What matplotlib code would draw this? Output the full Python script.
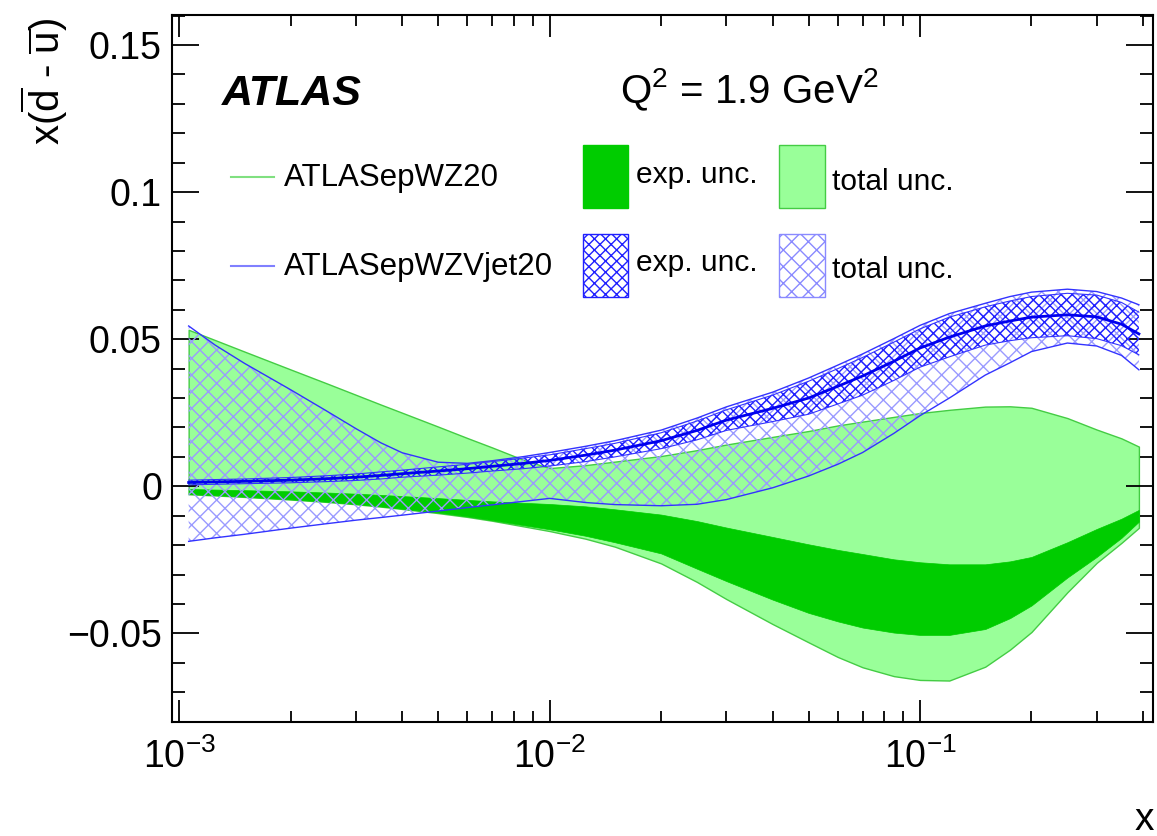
import numpy as np
import matplotlib
matplotlib.use('Agg')
import matplotlib.pyplot as plt
from matplotlib.patches import Rectangle
from matplotlib.lines import Line2D
from matplotlib.ticker import MultipleLocator, LogLocator, FuncFormatter, NullFormatter

plt.rcParams['font.family'] = ['Liberation Sans', 'DejaVu Sans']
plt.rcParams['mathtext.fontset'] = 'custom'
plt.rcParams['mathtext.rm'] = 'Liberation Sans'
plt.rcParams['mathtext.it'] = 'Liberation Sans:italic'
plt.rcParams['mathtext.bf'] = 'Liberation Sans:bold'
plt.rcParams['hatch.linewidth'] = 1.0

# x grid (Bjorken x)
x = [1.06e-3, 1.25e-3, 1.5e-3, 2e-3, 2.5e-3, 3e-3, 3.5e-3, 4e-3, 5e-3, 6e-3, 7e-3, 8.5e-3,
     0.01, 0.0125, 0.015, 0.02, 0.025, 0.03, 0.04, 0.05, 0.06, 0.07, 0.085,
     0.1, 0.12, 0.15, 0.175, 0.2, 0.25, 0.3, 0.35, 0.39]

# ATLASepWZ20 : total unc. band and exp. unc. band
wz_tot_up = [0.0532, 0.0497, 0.0458, 0.0397, 0.035, 0.0311, 0.0278, 0.025, 0.0203, 0.0164, 0.0132, 0.009,
             0.0062, 0.0072, 0.0084, 0.0103, 0.0123, 0.0142, 0.0168, 0.0188, 0.0207, 0.022, 0.0236,
             0.0249, 0.026, 0.0271, 0.0272, 0.0267, 0.0232, 0.0193, 0.0163, 0.0135]
wz_tot_lo = [-0.0027, -0.0031, -0.0036, -0.0045, -0.0053, -0.0061, -0.0069, -0.0077, -0.0091, -0.0104, -0.0117, -0.0136,
             -0.0152, -0.0178, -0.0205, -0.0262, -0.0325, -0.0383, -0.0468, -0.053, -0.058, -0.0615, -0.0645,
             -0.0658, -0.066, -0.0613, -0.0555, -0.0495, -0.036, -0.026, -0.0192, -0.0141]
wz_exp_up = [-0.0009, -0.0011, -0.0013, -0.0017, -0.0021, -0.0025, -0.0029, -0.0033, -0.004, -0.0046, -0.0051, -0.0056,
             -0.006, -0.0068, -0.0078, -0.0096, -0.0118, -0.014, -0.0172, -0.0197, -0.0216, -0.023, -0.0248,
             -0.0258, -0.0265, -0.0265, -0.0255, -0.024, -0.019, -0.0145, -0.011, -0.008]
wz_exp_lo = [-0.0026, -0.003, -0.0035, -0.0044, -0.0052, -0.006, -0.0068, -0.0076, -0.0089, -0.0102, -0.0115, -0.0132,
             -0.0146, -0.0168, -0.019, -0.0228, -0.028, -0.0322, -0.0385, -0.043, -0.0459, -0.048, -0.0497,
             -0.0505, -0.0505, -0.0485, -0.0448, -0.0405, -0.031, -0.024, -0.0175, -0.012]

# ATLASepWZVjet20 : central value, exp. and total unc. bands
vj_central = [0.0013, 0.0015, 0.0017, 0.0021, 0.0026, 0.0031, 0.0037, 0.0043, 0.0052, 0.006, 0.0068, 0.0078,
              0.0088, 0.0106, 0.0123, 0.0155, 0.019, 0.0225, 0.0265, 0.030, 0.034, 0.0375, 0.0425,
              0.047, 0.0507, 0.0545, 0.0562, 0.0575, 0.0583, 0.0576, 0.0551, 0.0518]
vj_exp_up = [0.0021, 0.0023, 0.0025, 0.003, 0.0036, 0.0042, 0.0049, 0.0055, 0.0066, 0.0075, 0.0084, 0.0096,
             0.0107, 0.0128, 0.0146, 0.0182, 0.0222, 0.026, 0.031, 0.0357, 0.040, 0.0438, 0.049,
             0.0535, 0.0575, 0.061, 0.063, 0.0645, 0.0656, 0.065, 0.0625, 0.0592]
vj_exp_lo = [0.0005, 0.0007, 0.0009, 0.0012, 0.0016, 0.002, 0.0025, 0.0031, 0.0038, 0.0045, 0.0052, 0.006,
             0.0069, 0.0084, 0.0100, 0.0128, 0.0158, 0.019, 0.022, 0.0245, 0.028, 0.031, 0.036,
             0.0405, 0.044, 0.048, 0.0495, 0.0505, 0.0512, 0.0502, 0.0478, 0.0447]
vj_tot_up = [0.0545, 0.048, 0.0418, 0.0328, 0.0256, 0.0196, 0.0148, 0.0114, 0.0082, 0.0078, 0.0087, 0.0101,
             0.0115, 0.0136, 0.0155, 0.0191, 0.0232, 0.027, 0.032, 0.0368, 0.0412, 0.045, 0.0502,
             0.0547, 0.0587, 0.0622, 0.0645, 0.066, 0.067, 0.0662, 0.064, 0.0617]
vj_tot_lo = [-0.0187, -0.0175, -0.0163, -0.0142, -0.0127, -0.0115, -0.0106, -0.0098, -0.0084, -0.0072, -0.0063, -0.0051,
             -0.0041, -0.0055, -0.0062, -0.0066, -0.0061, -0.0045, -0.0005, 0.0035, 0.0075, 0.0115, 0.018,
             0.024, 0.030, 0.0378, 0.042, 0.0458, 0.0487, 0.0477, 0.0445, 0.0396]

W, H = 1157, 836

def fx(px):
    return px / W

def fy(py):
    return 1 - py / H

fig = plt.figure(figsize=(W / 100, H / 100), dpi=100)
ax = fig.add_axes([0.1484, 0.1367, 0.8481, 0.8454])

# green bands
ax.fill_between(x, wz_tot_lo, wz_tot_up, facecolor='#99ff99', edgecolor='#44cc44', linewidth=1.0, zorder=1)
ax.fill_between(x, wz_exp_lo, wz_exp_up, facecolor='#00cc00', edgecolor='#00cc00', linewidth=0.5, zorder=2)

# blue bands (hatched)
ax.fill_between(x, vj_tot_lo, vj_tot_up, facecolor='none', edgecolor='#9a9aff', hatch='xx', linewidth=0, zorder=3)
ax.plot(x, vj_tot_up, color='#3333ff', lw=1.0, zorder=4)
ax.plot(x, vj_tot_lo, color='#3333ff', lw=1.0, zorder=4)
ax.fill_between(x, vj_exp_lo, vj_exp_up, facecolor='none', edgecolor='#2020ff', hatch='xxx', linewidth=0, zorder=5)
ax.plot(x, vj_exp_up, color='#3333ff', lw=0.8, zorder=5)
ax.plot(x, vj_exp_lo, color='#3333ff', lw=0.8, zorder=5)
ax.plot(x, vj_central, color='#0000ee', lw=2.0, zorder=6)

ax.set_xscale('log')
ax.set_xlim(9.54e-4, 0.4256)
ax.set_ylim(-0.08, 0.1602)

ax.yaxis.set_major_locator(MultipleLocator(0.05))
ax.yaxis.set_minor_locator(MultipleLocator(0.01))

def yfmt(v, pos):
    if abs(v) < 1e-9:
        return '0'
    s = f'{v:.2f}'.rstrip('0').rstrip('.')
    return s.replace('-', '\u2212')

ax.yaxis.set_major_formatter(FuncFormatter(yfmt))
ax.xaxis.set_major_locator(LogLocator(base=10))
ax.xaxis.set_minor_locator(LogLocator(base=10, subs=np.arange(2, 10)))
ax.xaxis.set_minor_formatter(NullFormatter())

ax.tick_params(which='both', direction='in', top=True, right=True, width=1.3, labelsize=27)
ax.tick_params(axis='y', which='major', length=19.5, pad=7)
ax.tick_params(axis='y', which='minor', length=9.5)
ax.tick_params(axis='x', which='major', length=16, pad=12)
ax.tick_params(axis='x', which='minor', length=8)
for sp in ax.spines.values():
    sp.set_linewidth(1.5)

# labels
fig.text(fx(44), fy(18), r'x($\overline{\mathregular{d}}$ - $\overline{\mathregular{u}}$)',
         rotation=90, ha='center', va='top', fontsize=29)
fig.text(fx(1154), fy(830), 'x', ha='right', va='baseline', fontsize=28)

fig.text(fx(222), fy(105), 'ATLAS', fontsize=31, fontweight='bold', fontstyle='italic',
         ha='left', va='baseline')
fig.text(fx(749), fy(103), r'Q$^{2}$ = 1.9 GeV$^{2}$', fontsize=29, ha='center', va='baseline')

# legend, drawn by hand
fig.add_artist(Line2D([fx(231), fx(274)], [fy(177), fy(177)], color='#80e080', lw=1.5,
                      transform=fig.transFigure))
fig.add_artist(Line2D([fx(231), fx(274)], [fy(266), fy(266)], color='#8080ff', lw=1.5,
                      transform=fig.transFigure))
fig.text(fx(284), fy(186), 'ATLASepWZ20', fontsize=22.5, ha='left', va='baseline')
fig.text(fx(284), fy(275), 'ATLASepWZVjet20', fontsize=22.5, ha='left', va='baseline')

def box(x0, x1, y0, y1, **kw):
    fig.add_artist(Rectangle((fx(x0), fy(y1)), fx(x1) - fx(x0), fy(y0) - fy(y1),
                             transform=fig.transFigure, **kw))

box(583, 628, 145, 208, facecolor='#00cc00', edgecolor='#00cc00', lw=1)
box(779, 825, 145, 208, facecolor='#99ff99', edgecolor='#44cc44', lw=1)
box(583, 628, 234, 297, facecolor='white', edgecolor='#2020ff', hatch='xxx', lw=1)
box(779, 825, 234, 297, facecolor='white', edgecolor='#8a8aff', hatch='xx', lw=1)

fig.text(fx(636), fy(183), 'exp. unc.', fontsize=21.5, ha='left', va='baseline')
fig.text(fx(832), fy(190), 'total unc.', fontsize=21.5, ha='left', va='baseline')
fig.text(fx(636), fy(271), 'exp. unc.', fontsize=21.5, ha='left', va='baseline')
fig.text(fx(832), fy(278), 'total unc.', fontsize=21.5, ha='left', va='baseline')

fig.savefig('out.png', dpi=100)
